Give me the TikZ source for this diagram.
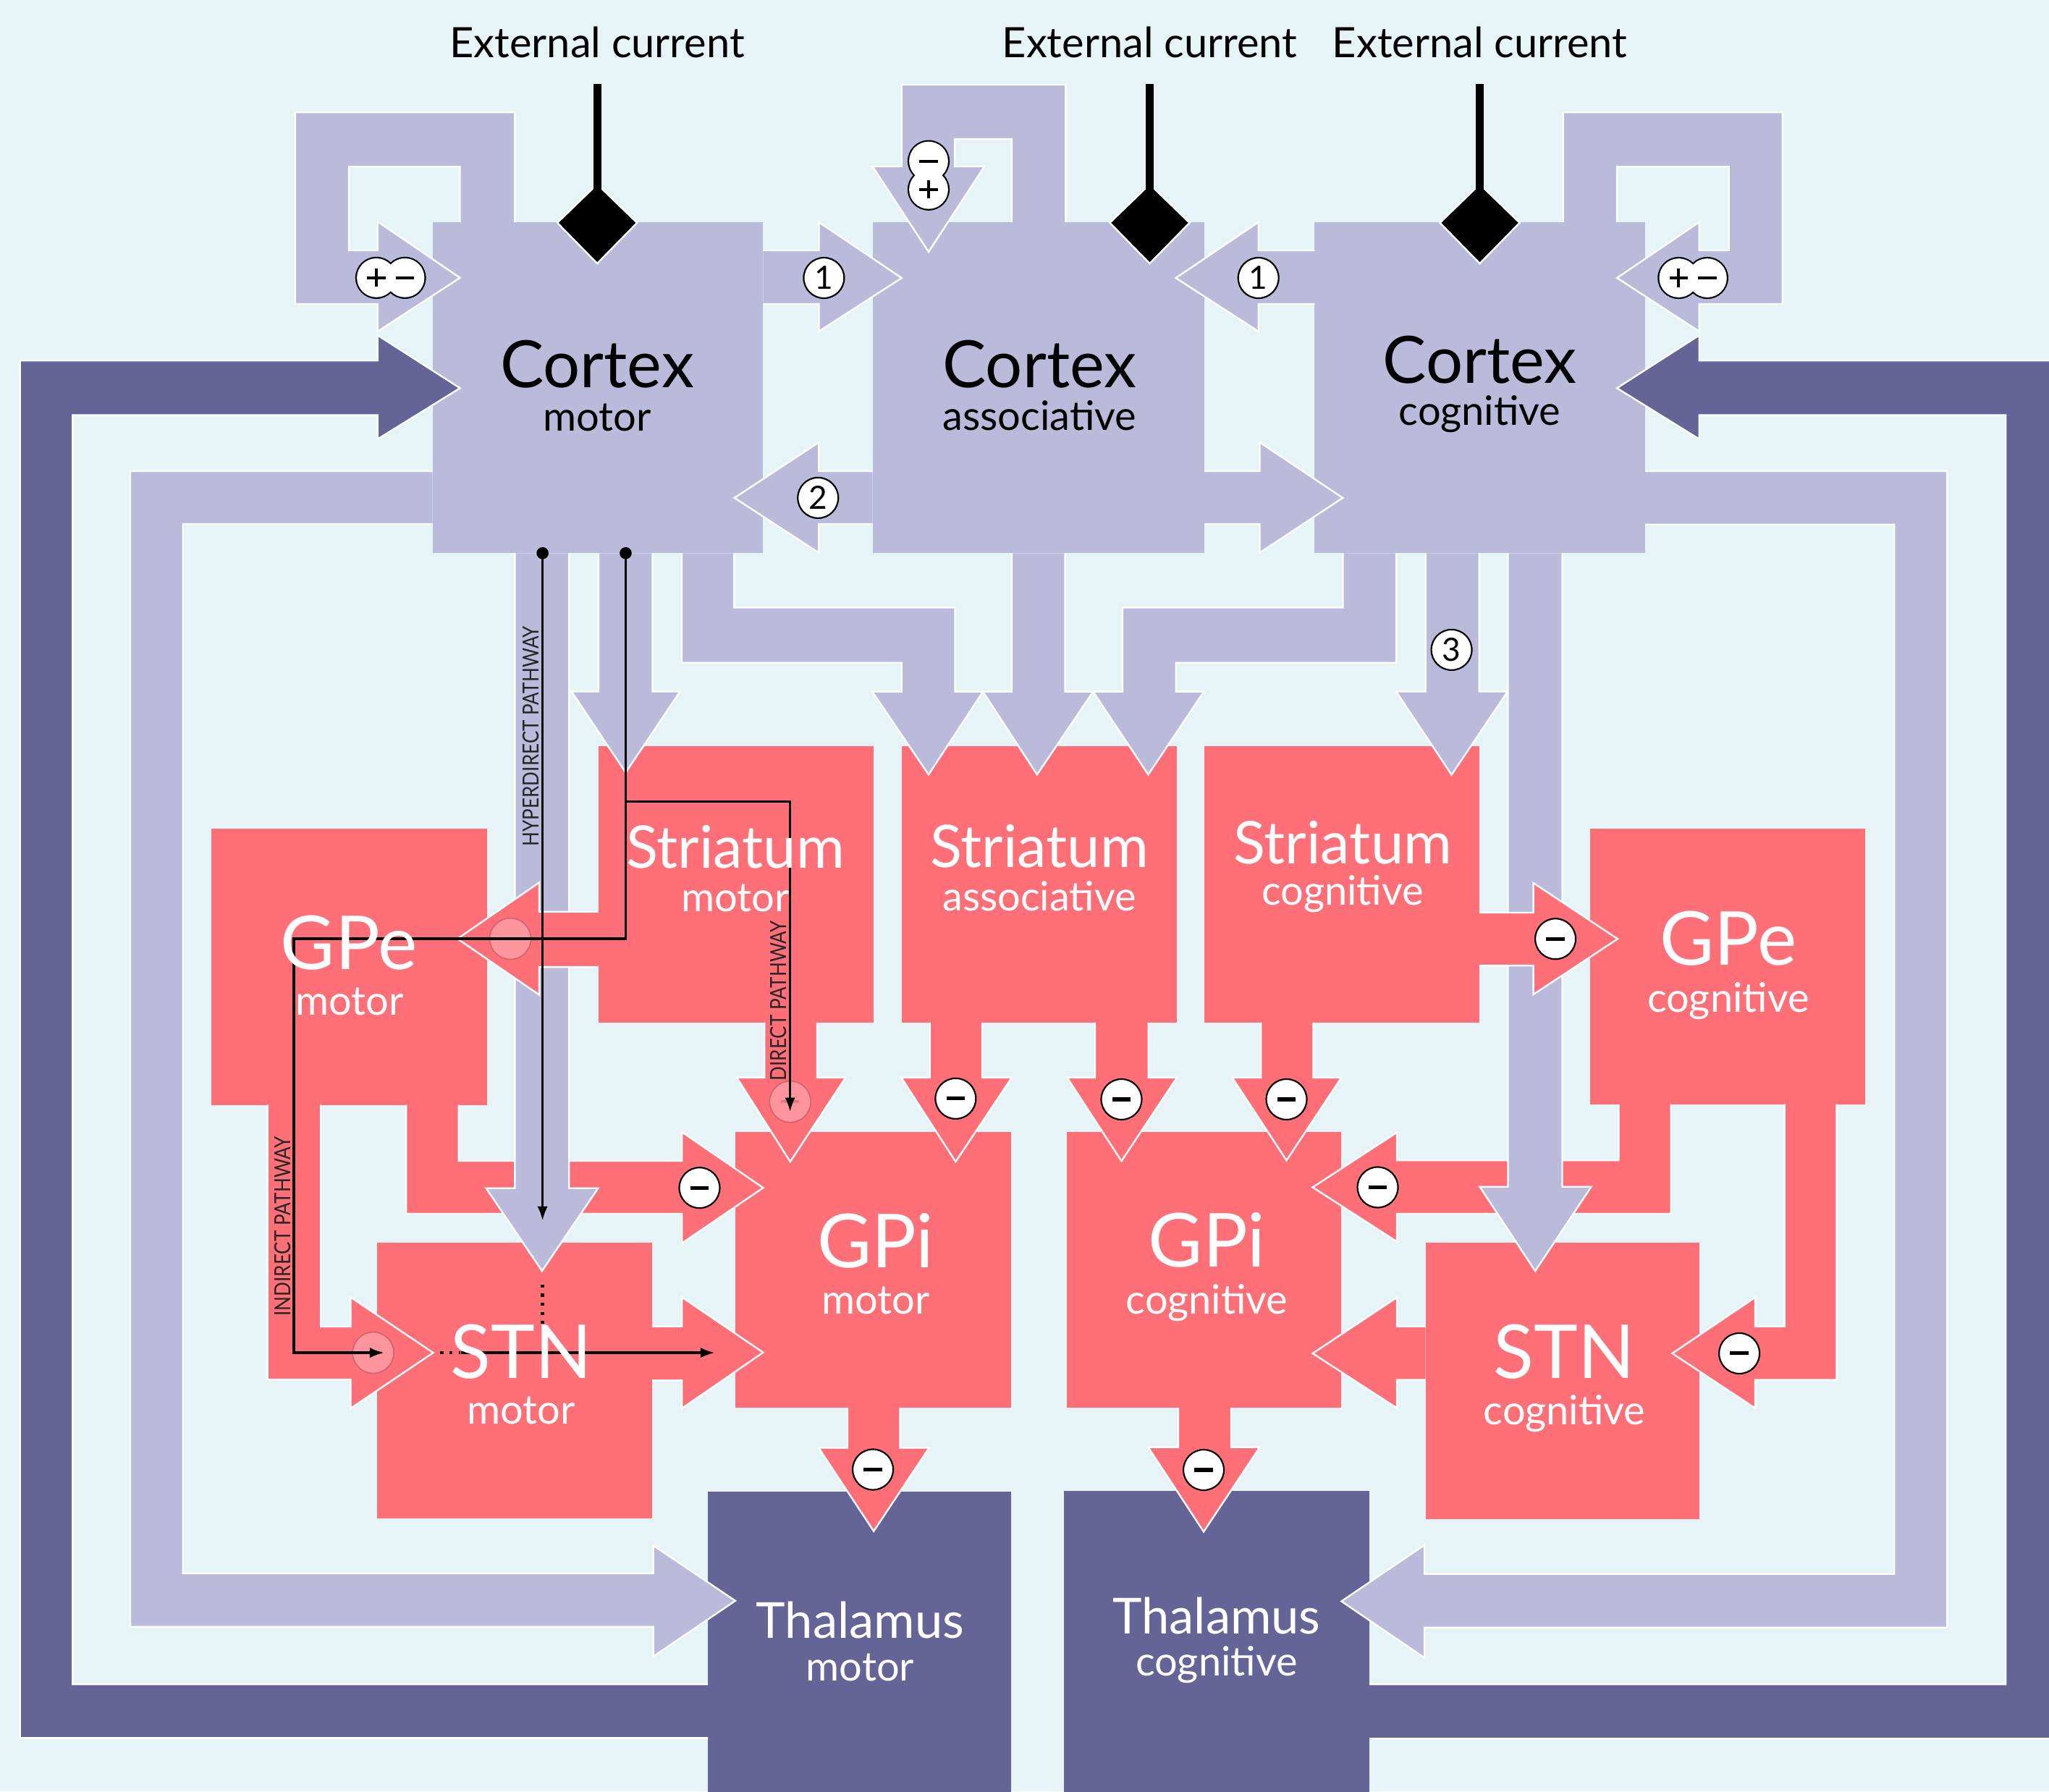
\documentclass[tikz,border=0pt]{standalone}
\usepackage{fontspec}
\setmainfont{Lato}
\usepackage{graphicx}
\usetikzlibrary{arrows.meta}
\definecolor{bgc}{HTML}{E6F4F8}
\definecolor{lpc}{HTML}{BABADB}
\definecolor{dpc}{HTML}{646496}
\definecolor{rdc}{HTML}{FF6F78}
\definecolor{pkc}{HTML}{FF959C}
\definecolor{pkdc}{HTML}{CF6670}
\newcommand\blk[2]{\fill[#1] #2 -- cycle; \draw[wl] #2;}
\newcommand\fsCx{\fontsize{50}{50}\selectfont}
\newcommand\fsSt{\fontsize{45}{45}\selectfont}
\newcommand\fsG{\fontsize{57}{57}\selectfont}
\newcommand\fsTh{\fontsize{38}{38}\selectfont}
\newcommand\fsSub{\fontsize{31}{31}\selectfont}
\newcommand\fsExt{\fontsize{32}{32}\selectfont}
\newcommand\fsPath{\fontsize{17}{17}\selectfont}
\newcommand\fsNum{\fontsize{24.5}{24.5}\selectfont}
\begin{document}
\begin{tikzpicture}[x=1pt,y=-1pt,
  wl/.style={white,line width=1.3pt,line join=miter},
  body/.style={rectangle,inner sep=0pt,outer sep=0pt,anchor=north west,draw=none},
  lbl/.style={anchor=base,inner sep=0pt},
  pl/.style={black,line width=2pt,line join=miter},
  tipa/.style={-{Latex[length=11pt,width=8pt]}},
  dotl/.style={black,line width=2.4pt,dash pattern=on 2.4pt off 4.6pt},
  numc/.style={circle,draw=black,fill=white,line width=1.2pt,minimum size=31pt,inner sep=0pt,font=\fsNum},
  mcirc/.pic={\filldraw[fill=white,draw=black,line width=1.2pt] (0,0) circle (15.5pt); \draw[line width=2.8pt] (-7,0) -- (7,0);},
  pcirc/.pic={\filldraw[fill=pkc,draw=pkdc,line width=1pt] (0,0) circle (15.8pt); \draw[pkdc!60!pkc,line width=2.5pt] (-7,0) -- (7,0);},
  pathtxt/.style={anchor=base,inner sep=0pt,rotate=90,font=\fsPath,text=black!85}
]
\useasboundingbox (0,0) rectangle (1568,1371);
\clip (0,0) rectangle (1568,1371);
\fill[bgc] (0,0) rectangle (1568,1371);

% ---------- bodies ----------
\node[body,fill=lpc,minimum width=253pt,minimum height=253.3pt] (cxm) at (331,170) {};
\node[body,fill=lpc,minimum width=253.9pt,minimum height=253.3pt] (cxa) at (667.7,170) {};
\node[body,fill=lpc,minimum width=253pt,minimum height=253.3pt] (cxc) at (1006,170) {};
\node[body,fill=rdc,minimum width=210.3pt,minimum height=211.5pt] (stm) at (458,571) {};
\node[body,fill=rdc,minimum width=210.6pt,minimum height=211.5pt] (sta) at (690,571) {};
\node[body,fill=rdc,minimum width=210.6pt,minimum height=211.5pt] (stc) at (921.4,571) {};
\node[body,fill=rdc,minimum width=210.9pt,minimum height=211.3pt] (gpem) at (161.9,634.2) {};
\node[body,fill=rdc,minimum width=210.7pt,minimum height=210.8pt] (gpec) at (1216.8,634.2) {};
\node[body,fill=rdc,minimum width=211.4pt,minimum height=211.1pt] (gpim) at (562.5,866.2) {};
\node[body,fill=rdc,minimum width=210.3pt,minimum height=211.3pt] (gpic) at (816.2,866) {};
\node[body,fill=rdc,minimum width=210.4pt,minimum height=211pt] (stnm) at (288.6,951) {};
\node[body,fill=rdc,minimum width=209.8pt,minimum height=211.5pt] (stnc) at (1090.9,951) {};
\node[body,fill=dpc,minimum width=232.3pt,minimum height=240pt] (thm) at (541.7,1141.5) {};
\node[body,fill=dpc,minimum width=233.7pt,minimum height=240pt] (thc) at (814.3,1141) {};

% ---------- outer loops ----------
\blk{dpc}{(541.7,1289) -- (55.6,1289) -- (55.6,317.7) -- (289,317.7) -- (289,336) -- (352,297) -- (289,256.6) -- (289,276) -- (15.3,276) -- (15.3,1330) -- (541.7,1330)}
\blk{dpc}{(1048,1289) -- (1534.8,1289) -- (1534.8,317.7) -- (1300.3,317.7) -- (1300.3,336) -- (1237.4,297) -- (1300.3,256.6) -- (1300.3,276) -- (1600,276) -- (1600,1330.5) -- (1048,1330.5)}
\blk{lpc}{(331,360.6) -- (99.7,360.6) -- (99.7,1245) -- (500,1245) -- (500,1267.6) -- (562.7,1225) -- (500,1182.8) -- (500,1204) -- (140,1204) -- (140,401) -- (331,401)}
\blk{lpc}{(1259,360.6) -- (1490,360.6) -- (1490,1245.5) -- (1090,1245.5) -- (1090,1268.6) -- (1026.5,1225.4) -- (1090,1182.4) -- (1090,1204.5) -- (1449.5,1204.5) -- (1449.5,401.5) -- (1259,401.5)}

% ---------- cortex self loops ----------
\blk{lpc}{(394,170) -- (394,86) -- (226,86) -- (226,232.6) -- (289,232.6) -- (289,253.6) -- (352,212.6) -- (289,169.6) -- (289,191.6) -- (267,191.6) -- (267,127.5) -- (352,127.5) -- (352,170)}
\blk{lpc}{(774.3,170) -- (774.3,106.3) -- (730.6,106.3) -- (730.6,127.4) -- (753.3,127.4) -- (710.6,192.7) -- (667.7,127.4) -- (690,127.4) -- (690,64.8) -- (815.5,64.8) -- (815.5,170)}
\blk{lpc}{(1196.2,170) -- (1196.2,86) -- (1364,86) -- (1364,232.6) -- (1300.3,232.6) -- (1300.3,253.6) -- (1237.4,212.7) -- (1300.3,170) -- (1300.3,191.6) -- (1323,191.6) -- (1323,127.5) -- (1237.4,127.5) -- (1237.4,170)}

% ---------- cortex to cortex ----------
\blk{lpc}{(584,191.6) -- (626.6,191.6) -- (626.6,170) -- (690,212.7) -- (626.6,253.6) -- (626.6,232.6) -- (584,232.6)}
\blk{lpc}{(667.7,360.6) -- (626.6,360.6) -- (626.6,338.5) -- (562,381) -- (626.6,423) -- (626.6,401) -- (667.7,401)}
\blk{lpc}{(921.6,360.6) -- (964,360.6) -- (964,338.5) -- (1027.5,381) -- (964,423) -- (964,401) -- (921.6,401)}
\blk{lpc}{(1006,191.6) -- (963,191.6) -- (963,170) -- (899.8,212.7) -- (963,253.6) -- (963,232.6) -- (1006,232.6)}

% ---------- external currents ----------
\filldraw[fill=black,draw=white,line width=1.3pt,line join=miter] (457,141) -- (426.5,170.5) -- (457,201.6) -- (487.5,170.5) -- cycle;
\filldraw[fill=black,draw=white,line width=1.3pt,line join=miter] (879.8,141) -- (849.3,170.5) -- (879.8,201.6) -- (910.3,170.5) -- cycle;
\filldraw[fill=black,draw=white,line width=1.3pt,line join=miter] (1132.4,141) -- (1101.9,170.5) -- (1132.4,201.6) -- (1162.9,170.5) -- cycle;
\coordinate (em) at (457,64.5);
\coordinate (ea) at (879.8,64.5);
\coordinate (ec) at (1132.4,64.5);
\draw[line width=6pt] (em) -- (457,146);
\draw[line width=6pt] (ea) -- (879.8,146);
\draw[line width=6pt] (ec) -- (1132.4,146);
\node[lbl,font=\fsExt] (tem) at (457,44) {External current};
\node[lbl,font=\fsExt] (tea) at (879.8,44) {External current};
\node[lbl,font=\fsExt] (tec) at (1132.4,44) {External current};

% ---------- cortex to striatum ----------
\blk{lpc}{(458,423.3) -- (458,529.2) -- (437.4,529.2) -- (478.8,591.2) -- (520.4,529.2) -- (499.3,529.2) -- (499.3,423.3)}
\blk{lpc}{(521.7,423.3) -- (521.7,507.2) -- (690,507.2) -- (690,529.3) -- (667.5,529.3) -- (710.6,592.8) -- (752.2,529.3) -- (730.8,529.3) -- (730.8,465) -- (561.8,465) -- (561.8,423.3)}
\blk{lpc}{(774.3,423.3) -- (774.3,529.3) -- (752.2,529.3) -- (793.6,592.8) -- (836.5,529.3) -- (815.1,529.3) -- (815.1,423.3)}
\blk{lpc}{(1068.4,423.3) -- (1068.4,507.2) -- (899.9,507.2) -- (899.9,529.3) -- (921.2,529.3) -- (878.7,592.8) -- (836.5,529.3) -- (859,529.3) -- (859,465) -- (1027.7,465) -- (1027.7,423.3)}
\blk{lpc}{(1091,423.3) -- (1091,529.2) -- (1068.4,529.2) -- (1110.8,592.9) -- (1153.7,529.2) -- (1132,529.2) -- (1132,423.3)}

% ---------- red connections ----------
\blk{rdc}{(585,782.5) -- (585,824.6) -- (563.8,824.6) -- (604.7,889) -- (647.1,824.6) -- (625.3,824.6) -- (625.3,782.5)}
\blk{rdc}{(711.6,782.5) -- (711.6,824.6) -- (689.7,824.6) -- (731.3,889) -- (774.3,824.6) -- (751.6,824.6) -- (751.6,782.5)}
\blk{rdc}{(838,782.5) -- (838,824.6) -- (816.6,824.6) -- (858.2,888.5) -- (900.6,824.6) -- (878.8,824.6) -- (878.8,782.5)}
\blk{rdc}{(965,782.5) -- (965,824.7) -- (943,824.7) -- (984.5,888) -- (1026.5,824.7) -- (1005,824.7) -- (1005,782.5)}
\blk{rdc}{(310.8,845.5) -- (310.8,928.8) -- (521.8,928.8) -- (521.8,951.4) -- (584,909) -- (521.8,866.3) -- (521.8,888.4) -- (351.1,888.4) -- (351.1,845.5)}
\blk{rdc}{(204.7,845.5) -- (204.7,1055.7) -- (268.3,1055.7) -- (268.3,1077.8) -- (331.5,1035.2) -- (268.3,992.7) -- (268.3,1015.2) -- (245.5,1015.2) -- (245.5,845.5)}
\blk{rdc}{(499,1015) -- (521.8,1015) -- (521.8,992.7) -- (584,1035) -- (521.8,1077.8) -- (521.8,1056.4) -- (499,1056.4)}
\blk{rdc}{(648.5,1077.3) -- (648.5,1108) -- (626.5,1108) -- (668.6,1171.8) -- (711,1108) -- (688.7,1108) -- (688.7,1077.3)}
\blk{rdc}{(1278.7,845) -- (1278.7,928.8) -- (1069,928.8) -- (1069,950.2) -- (1004.5,908.6) -- (1069,866.6) -- (1069,888) -- (1238.7,888) -- (1238.7,845)}
\blk{rdc}{(1405.5,845) -- (1405.5,1055.9) -- (1343.1,1055.9) -- (1343.1,1077.6) -- (1279.7,1035.7) -- (1343.1,992.9) -- (1343.1,1015) -- (1365.6,1015) -- (1365.6,845)}
\blk{rdc}{(1090.9,1015) -- (1069,1015) -- (1069,992.9) -- (1004.5,1035.7) -- (1069,1077.6) -- (1069,1055.9) -- (1090.9,1055.9)}
\blk{rdc}{(901.7,1077.3) -- (901.7,1107.6) -- (878.7,1107.6) -- (921.1,1172.2) -- (964,1107.6) -- (942.1,1107.6) -- (942.1,1077.3)}

% ---------- cortex to STN (on top) ----------
\blk{lpc}{(394,423.3) -- (394,909.3) -- (372,909.3) -- (414.8,972.6) -- (457.7,909.3) -- (435.5,909.3) -- (435.5,423.3)}
\blk{lpc}{(1154,423.3) -- (1154,908.2) -- (1132.4,908.2) -- (1174.8,972.7) -- (1217.7,908.2) -- (1195.5,908.2) -- (1195.5,423.3)}

% ---------- striatum to GPe (on top) ----------
\blk{rdc}{(458,697.7) -- (412.6,697.7) -- (412.6,675.4) -- (350.1,718.4) -- (412.6,761.3) -- (412.6,740) -- (458,740)}
\blk{rdc}{(1132,698.4) -- (1173.4,698.4) -- (1173.4,675.7) -- (1237.9,718.5) -- (1173.4,761) -- (1173.4,738.9) -- (1132,738.9)}

% ---------- pathways ----------
\pic at (390.5,718.4) {pcirc};
\pic at (604.7,843.1) {pcirc};
\pic at (285.6,1035.2) {pcirc};
\coordinate (hd0) at (415.2,423.3);
\coordinate (hd1) at (415.2,934.2);
\coordinate (dd0) at (478.8,423.3);
\coordinate (dsplit) at (478.8,613.3);
\coordinate (dd1) at (604.6,851);
\coordinate (id1) at (294,1035.2);
\coordinate (so0) at (353,1035.2);
\coordinate (so1) at (547,1035.2);
\fill (hd0) circle (4.6pt);
\fill (dd0) circle (4.6pt);
\draw[pl,tipa] (hd0) -- (hd1);
\draw[dotl] (415.2,983) -- (415.2,1013);
\draw[pl,tipa] (dd0) -- (dsplit) -| (dd1);
\draw[pl,tipa] (dsplit) -- (478.8,718.4) -- (224.9,718.4) -- (224.9,1035.2) -- (id1);
\draw[dotl] (337,1035.2) -- (352,1035.2);
\draw[pl,tipa] (so0) -- (so1);
\node[pathtxt] (thd) at (412.6,563.4) {\scalebox{0.85}[1]{HYPERDIRECT PATHWAY}};
\node[pathtxt] (tdd) at (601.9,765.8) {\scalebox{0.85}[1]{DIRECT PATHWAY}};
\node[pathtxt] (tid) at (222.4,938.4) {\scalebox{0.85}[1]{INDIRECT PATHWAY}};

% ---------- signs ----------
\pic at (1190.3,718.5) {mcirc};
\pic at (731.3,840.7) {mcirc};
\pic at (858.2,841.3) {mcirc};
\pic at (984.5,841.3) {mcirc};
\pic at (535.3,909) {mcirc};
\pic at (1054.3,908.6) {mcirc};
\pic at (1331,1035.7) {mcirc};
\pic at (668,1124.6) {mcirc};
\pic at (921.1,1124.9) {mcirc};
\node[numc] (n1a) at (630.5,212.7) {1};
\node[numc] (n1b) at (963,212.7) {1};
\node[numc] (n2) at (626,381) {2};
\node[numc] (n3) at (1110.8,497.3) {3};
% +/- pairs
\fill[black] (288,212.6) circle (16.1pt) (309.9,212.6) circle (16.1pt);
\fill[white] (288,212.6) circle (14.9pt) (309.9,212.6) circle (14.9pt);
\draw[line width=2.2pt] (281,212.6) -- (295,212.6) (288,205.6) -- (288,219.6) (302.9,212.6) -- (316.9,212.6);
\fill[black] (1284.6,212.7) circle (16.1pt) (1306.5,212.7) circle (16.1pt);
\fill[white] (1284.6,212.7) circle (14.9pt) (1306.5,212.7) circle (14.9pt);
\draw[line width=2.2pt] (1277.6,212.7) -- (1291.6,212.7) (1284.6,205.7) -- (1284.6,219.7) (1299.5,212.7) -- (1313.5,212.7);
\fill[black] (710.6,123.3) circle (16.1pt) (710.6,145) circle (16.1pt);
\fill[white] (710.6,123.3) circle (14.9pt) (710.6,145) circle (14.9pt);
\draw[line width=2.2pt] (703.6,123.3) -- (717.6,123.3) (703.6,145) -- (717.6,145) (710.6,138) -- (710.6,152);

% ---------- labels ----------
\node[lbl,font=\fsCx] at (457,296.8) {Cortex};
\node[lbl,font=\fsSub] at (457,329.9) {motor};
\node[lbl,font=\fsCx] at (795.5,296.8) {Cortex};
\node[lbl,font=\fsSub] at (795.5,329.2) {associative};
\node[lbl,font=\fsCx] at (1132.4,293.2) {Cortex};
\node[lbl,font=\fsSub] at (1132.4,325.6) {cognitive};
\node[lbl,font=\fsSt,text=white] at (562.7,664.3) {Striatum};
\node[lbl,font=\fsSub,text=white] at (562.7,697.7) {motor};
\node[lbl,font=\fsSt,text=white] at (795.4,663.9) {Striatum};
\node[lbl,font=\fsSub,text=white] at (795.4,696.8) {associative};
\node[lbl,font=\fsSt,text=white] at (1027.5,660.8) {Striatum};
\node[lbl,font=\fsSub,text=white] at (1027.5,692.6) {cognitive};
\node[lbl,font=\fsG,text=white] at (267,742) {GPe};
\node[lbl,font=\fsSub,text=white] at (267.5,777) {motor};
\node[lbl,font=\fsG,text=white] at (1322.6,738.4) {GPe};
\node[lbl,font=\fsSub,text=white] at (1322.6,774.6) {cognitive};
\node[lbl,font=\fsG,text=white] at (670,970.3) {GPi};
\node[lbl,font=\fsSub,text=white] at (670,1005.8) {motor};
\node[lbl,font=\fsG,text=white] at (923.6,969.6) {GPi};
\node[lbl,font=\fsSub,text=white] at (923.6,1005.8) {cognitive};
\node[lbl,font=\fsG,text=white] at (398.8,1054.7) {STN};
\node[lbl,font=\fsSub,text=white] at (398.8,1089.8) {motor};
\node[lbl,font=\fsG,text=white] at (1197.2,1055) {STN};
\node[lbl,font=\fsSub,text=white] at (1197.2,1090) {cognitive};
\node[lbl,font=\fsTh,text=white] at (658.2,1253.8) {Thalamus};
\node[lbl,font=\fsSub,text=white] at (658.2,1286.5) {motor};
\node[lbl,font=\fsTh,text=white] at (931,1250.4) {Thalamus};
\node[lbl,font=\fsSub,text=white] at (931,1282.5) {cognitive};
\end{tikzpicture}
\end{document}
